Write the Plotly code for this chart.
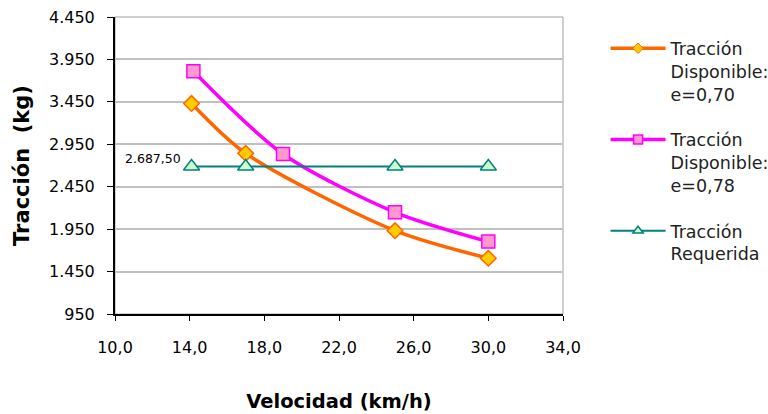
import plotly.graph_objects as go

vel_070 = [14.1, 17.0, 25.0, 30.0]
trac_070 = [3431, 2843, 1932, 1607]
vel_078 = [14.2, 19.0, 25.0, 30.0]
trac_078 = [3811, 2835, 2149, 1803]
vel_req = [14.1, 17.0, 25.0, 30.0]
trac_req = [2687.5, 2687.5, 2687.5, 2687.5]

names = ["Tracción<br>Disponible:<br>e=0,70", "Tracción<br>Disponible:<br>e=0,78", "Tracción<br>Requerida"]

FONT = "DejaVu Sans"

styles = [
    dict(line=dict(color="#ff6600", width=3.5, shape="spline", smoothing=0.8),
         marker=dict(symbol="diamond", size=12, color="#ffcc00", line=dict(color="#ff6600", width=1.5)),
         leg_marker=dict(symbol="diamond", size=8, color="#ffcc00", line=dict(color="#ff6600", width=1))),
    dict(line=dict(color="#ff00ff", width=3.5, shape="spline", smoothing=0.8),
         marker=dict(symbol="square", size=13, color="#ff99cc", line=dict(color="#ff00ff", width=1.5)),
         leg_marker=dict(symbol="square", size=9, color="#ff99cc", line=dict(color="#ff00ff", width=1.5))),
    dict(line=dict(color="#008080", width=2),
         marker=dict(symbol="triangle-up", size=14, color="#ccffcc", line=dict(color="#008080", width=1.5)),
         leg_marker=dict(symbol="triangle-up", size=9, color="#ccffcc", line=dict(color="#008080", width=1.5))),
]
series = [(vel_070, trac_070), (vel_078, trac_078), (vel_req, trac_req)]

fig = go.Figure()
for i, ((xs, ys), st) in enumerate(zip(series, styles)):
    fig.add_trace(go.Scatter(x=xs, y=ys, name=names[i], mode="lines+markers",
                             line=st["line"], marker=st["marker"], showlegend=False))
for i, st in enumerate(styles):
    lw = dict(color=st["line"]["color"], width=st["line"]["width"])
    fig.add_trace(go.Scatter(x=[None], y=[None], name=names[i], mode="lines+markers",
                             legendgroup="g%d" % i, line=lw, marker=st["leg_marker"]))

fig.add_annotation(x=vel_req[0], y=trac_req[0], xref="x", yref="y",
                   text="2.687,50", showarrow=False, xanchor="right", yanchor="middle",
                   xshift=-9, yshift=8, font=dict(family=FONT, size=12.5, color="#000000"))

fig.add_shape(type="rect", xref="paper", yref="paper", x0=0, x1=1, y0=0, y1=1,
              line=dict(color="#a0a0a0", width=1), layer="below")

fig.update_layout(
    width=768, height=414,
    margin=dict(l=115, r=205, t=17, b=100, autoexpand=False),
    paper_bgcolor="white", plot_bgcolor="white",
    separators=",.",
    font=dict(family=FONT, size=16, color="#000000"),
    showlegend=True,
    legend=dict(x=1.095, y=0.955, xanchor="left", yanchor="top",
                font=dict(family=FONT, size=17.5, color="#222222"),
                valign="top", tracegroupgap=20, itemwidth=55,
                bgcolor="rgba(0,0,0,0)"),
    xaxis=dict(range=[10, 34], dtick=4, tick0=10, tickformat=".1f",
               showgrid=False, zeroline=False,
               showline=True, linecolor="#000000", linewidth=2,
               ticks="outside", ticklen=5, tickcolor="#000000",
               ticklabelstandoff=13,
               tickfont=dict(family=FONT, size=16),
               title=dict(text="<b>Velocidad (km/h)</b>", font=dict(family=FONT, size=19.5), standoff=38)),
    yaxis=dict(range=[950, 4450], dtick=500, tick0=950, tickformat=",.0f",
               showgrid=True, gridcolor="#c0c0c0", gridwidth=2, zeroline=False,
               showline=True, linecolor="#000000", linewidth=2,
               ticks="outside", ticklen=6, tickcolor="#000000",
               ticklabelstandoff=9,
               tickfont=dict(family=FONT, size=16),
               title=dict(text="<b>Tracción\u00a0\u00a0(kg)</b>", font=dict(family=FONT, size=21), standoff=14)),
)

fig.write_html("out.html")
